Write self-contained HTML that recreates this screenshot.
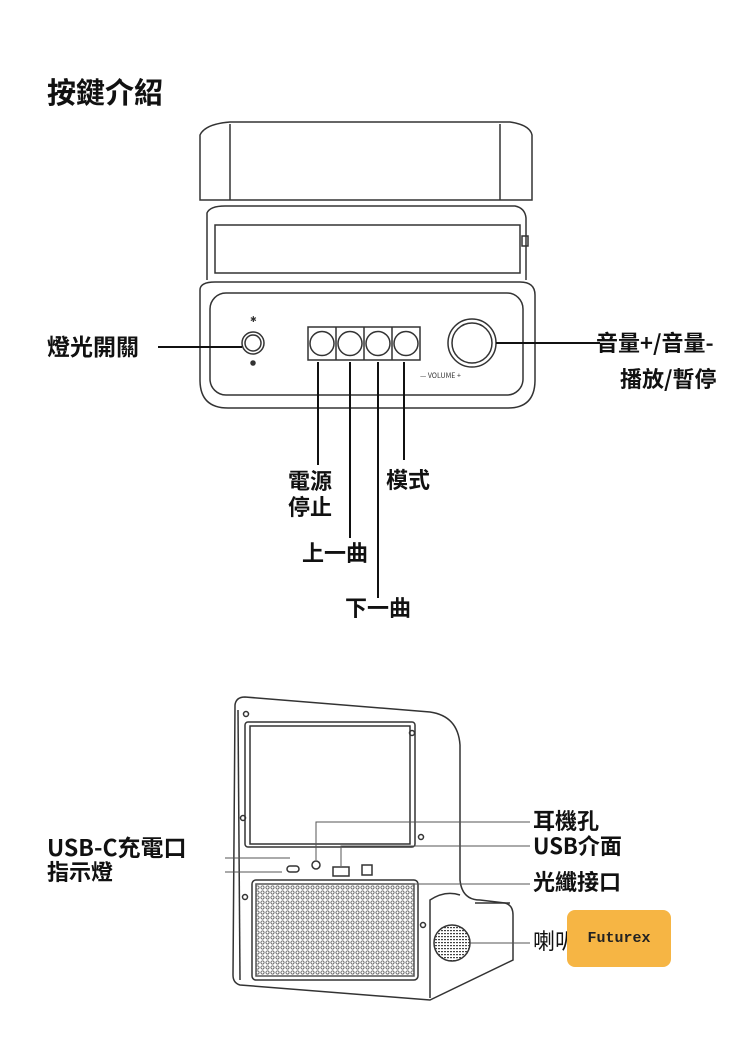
<!DOCTYPE html>
<html><head><meta charset="utf-8"><style>
body{margin:0;background:#fff;width:750px;height:1047px;position:relative;overflow:hidden;font-family:"Noto Sans CJK TC","Liberation Sans",sans-serif;}
.t{position:absolute;font-weight:bold;color:#111;font-size:22px;line-height:1;white-space:nowrap;}
</style></head><body>
<svg width="750" height="1047" style="position:absolute;left:0;top:0" fill="none" stroke="#333" stroke-width="1.5">
<!-- top device -->
<path d="M200 200 L200 135 Q205 124 230 122 L510 122 Q530 125 532 135 L532 200 Z"/>
<line x1="230" y1="124" x2="230" y2="200"/><line x1="500" y1="124" x2="500" y2="200"/>
<path d="M207 280 L207 213 Q210 206 225 206 L515 206 Q525 208 526 218 L526 280"/>
<rect x="215" y="225" width="305" height="48"/>
<rect x="522" y="236" width="6" height="10"/>
<path d="M200 290 L200 380 Q200 408 228 408 L508 408 Q535 408 535 380 L535 295 Q535 282 520 282 L215 282 Q200 282 200 290 Z"/>
<rect x="210" y="293" width="313" height="102" rx="16"/>
<circle cx="253" cy="343" r="11"/><circle cx="253" cy="343" r="8"/>
<circle cx="253" cy="363" r="2" fill="#333"/>
<text x="250" y="322" font-size="8" fill="#333" stroke="none">✱</text>
<rect x="308" y="327" width="112" height="33"/>
<line x1="336" y1="327" x2="336" y2="360"/><line x1="364" y1="327" x2="364" y2="360"/><line x1="392" y1="327" x2="392" y2="360"/>
<circle cx="322" cy="343.5" r="12"/><circle cx="350" cy="343.5" r="12"/><circle cx="378" cy="343.5" r="12"/><circle cx="406" cy="343.5" r="12"/>
<circle cx="472" cy="343" r="24"/><circle cx="472" cy="343" r="20"/>
<text x="420" y="378" font-size="7" fill="#333" stroke="none">— VOLUME +</text>
<g stroke="#111" stroke-width="2">
<line x1="158" y1="347" x2="242" y2="347"/>
<line x1="496" y1="343" x2="600" y2="343"/>
<line x1="318" y1="362" x2="318" y2="465"/>
<line x1="350" y1="362" x2="350" y2="538"/>
<line x1="378" y1="362" x2="378" y2="598"/>
<line x1="404" y1="362" x2="404" y2="460"/>
</g>
<!-- bottom device -->
<path d="M235 705 Q236 697 245 697 L430 712 Q458 716 460 745 L460 880 Q462 900 480 900 L505 903 Q513 905 513 915 L513 960 L430 1000 L240 985 Q233 983 233 975 Z"/>
<path d="M238 710 L240 980"/>
<rect x="245" y="722" width="170" height="125" rx="3"/>
<rect x="250" y="726" width="160" height="118"/>
<rect x="252" y="880" width="166" height="100" rx="4"/>
<rect x="256" y="884" width="158" height="92" fill="url(#dots)" stroke="#555"/>
<path d="M430 998 L430 900 Q445 890 460 895"/>
<path d="M475 903 L510 903"/>
<circle cx="452" cy="943" r="18" fill="url(#dots2)"/>
<circle cx="246" cy="714" r="2.5"/><circle cx="412" cy="733" r="2.5"/><circle cx="243" cy="818" r="2.5"/><circle cx="421" cy="837" r="2.5"/><circle cx="245" cy="897" r="2.5"/><circle cx="423" cy="925" r="2.5"/>
<rect x="287" y="866" width="12" height="6" rx="3"/>
<circle cx="316" cy="865" r="4"/>
<rect x="333" y="867" width="16" height="9"/>
<rect x="362" y="865" width="10" height="10"/>
<defs>
<pattern id="dots" width="5" height="5" patternUnits="userSpaceOnUse"><circle cx="2.5" cy="2.5" r="1.6" fill="none" stroke="#555" stroke-width="0.8"/></pattern>
<pattern id="dots2" width="3" height="3" patternUnits="userSpaceOnUse"><rect width="2" height="1.2" fill="#444" stroke="none"/></pattern>
</defs>
<g stroke="#555" stroke-width="1">
<line x1="225" y1="858" x2="290" y2="858"/><line x1="225" y1="872" x2="282" y2="872"/>
<polyline points="316,860 316,822 530,822"/>
<polyline points="341,866 341,846 530,846"/>
<line x1="373" y1="884" x2="530" y2="884"/>
<line x1="470" y1="943" x2="530" y2="943"/>
</g>
</svg>
<div class="t" style="left:47px;top:77px;font-size:29px">按鍵介紹</div>
<div class="t" style="left:47px;top:334px;font-size:23px">燈光開關</div>
<div class="t" style="left:596px;top:331px">音量+/音量-</div>
<div class="t" style="left:620px;top:367px">播放/暫停</div>
<div class="t" style="left:288px;top:469px">電源</div>
<div class="t" style="left:288px;top:495px">停止</div>
<div class="t" style="left:386px;top:468px">模式</div>
<div class="t" style="left:302px;top:541px">上一曲</div>
<div class="t" style="left:345px;top:596px">下一曲</div>
<div class="t" style="left:47px;top:835px;font-size:23px">USB-C充電口</div>
<div class="t" style="left:47px;top:860px">指示燈</div>
<div class="t" style="left:533px;top:809px">耳機孔</div>
<div class="t" style="left:533px;top:834px">USB介面</div>
<div class="t" style="left:533px;top:870px">光纖接口</div>
<div class="t" style="left:533px;top:929px;font-weight:normal">喇叭</div>
<div style="position:absolute;left:567px;top:910px;width:104px;height:57px;background:#f6b544;border-radius:8px;font-family:'Liberation Mono',monospace;font-weight:bold;font-size:15px;line-height:57px;text-align:center;color:#222">Futurex</div>
</body></html>
